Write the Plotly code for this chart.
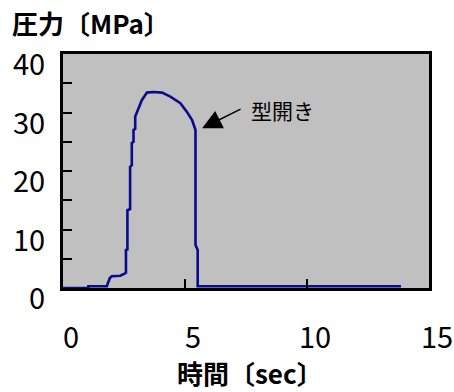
import plotly.graph_objects as go

# Mould pressure trace over one cycle
time_s = [0, 1.04, 1.04, 1.80, 1.82, 1.86, 1.92, 2.00, 2.35, 2.50, 2.58, 2.58, 2.64, 2.64,
          2.75, 2.75, 2.82, 2.82, 2.89, 2.89, 2.96, 2.96, 3.09, 3.23, 3.44, 3.70, 4.06,
          4.40, 4.81, 5.08, 5.29, 5.43, 5.43, 5.52, 5.52, 13.85]
pressure_mpa = [0, 0, 0.3, 0.3, 0.6, 1.2, 1.7, 2.0, 2.1, 2.4, 2.6, 6.5, 6.6, 13.3,
                13.5, 20.7, 21.0, 24.8, 25.0, 27.0, 27.2, 29.3, 30.7, 32.1, 33.4, 33.5, 33.4,
                32.7, 31.6, 30.1, 28.7, 27.0, 7.35, 6.5, 0.3, 0.3]

x_ticks = [0, 5, 10, 15]
y_ticks = [0, 5, 10, 15, 20, 25, 30, 35, 40]
y_labels = [0, 10, 20, 30, 40]

# Mould-open marker
open_point = (5.70, 27.3)
open_tail = (7.34, 30.7)
open_label = "型開き"

FONT = "Noto Sans CJK JP"

fig = go.Figure()
fig.add_trace(go.Scatter(
    x=time_s, y=pressure_mpa, mode="lines",
    line=dict(color="#0a0a8c", width=2.6),
    hoverinfo="skip", showlegend=False,
))

fig.update_xaxes(
    range=[0, 15], tickvals=x_ticks[1:-1], ticks="inside", ticklen=9, tickwidth=2,
    tickcolor="black", showticklabels=False, showgrid=False, zeroline=False,
    showline=True, linecolor="black", linewidth=2.5, mirror=True,
)
fig.update_yaxes(
    range=[0, 40], tickvals=y_ticks[1:-1], ticks="inside", ticklen=9, tickwidth=2,
    tickcolor="black", showticklabels=False, showgrid=False, zeroline=False,
    showline=True, linecolor="black", linewidth=2.5, mirror=True,
)

num_font = dict(family=FONT, size=29, color="black")
title_font = dict(family=FONT, size=26, color="black", weight="bold")

annotations = []
for v in y_labels:
    annotations.append(dict(
        x=0, xref="paper", y=v, yref="y", text=str(v), showarrow=False,
        xanchor="right", yanchor="middle", xshift=-16, yshift=-8, font=num_font,
    ))
for v in x_ticks:
    annotations.append(dict(
        x=v, xref="x", y=0, yref="paper", text=str(v), showarrow=False,
        xanchor="center", yanchor="middle", xshift=8, yshift=-47, font=num_font,
    ))
annotations.append(dict(
    x=0.5, xref="paper", y=0, yref="paper", text="時間〔sec〕", showarrow=False,
    xanchor="center", yanchor="middle", xshift=4, yshift=-84, font=title_font,
))
annotations.append(dict(
    x=-53 / 366, xref="paper", y=1, yref="paper", text="圧力〔MPa〕", showarrow=False,
    xanchor="left", yanchor="middle", yshift=32, font=title_font,
))
annotations.append(dict(
    x=open_point[0], y=open_point[1], xref="x", yref="y",
    ax=open_tail[0], ay=open_tail[1], axref="x", ayref="y",
    text="", showarrow=True, arrowhead=2, arrowsize=2.6, arrowwidth=1.5,
    arrowcolor="black",
))
annotations.append(dict(
    x=open_tail[0] + 0.3, y=open_tail[1] - 0.2, xref="x", yref="y", text=open_label,
    showarrow=False, xanchor="left", yanchor="middle",
    font=dict(family=FONT, size=21, color="black"),
))

fig.update_layout(
    width=454, height=392,
    margin=dict(l=63, r=25, t=54, b=104),
    paper_bgcolor="white", plot_bgcolor="#c0c0c0",
    annotations=annotations,
)

fig.write_html("out.html")
